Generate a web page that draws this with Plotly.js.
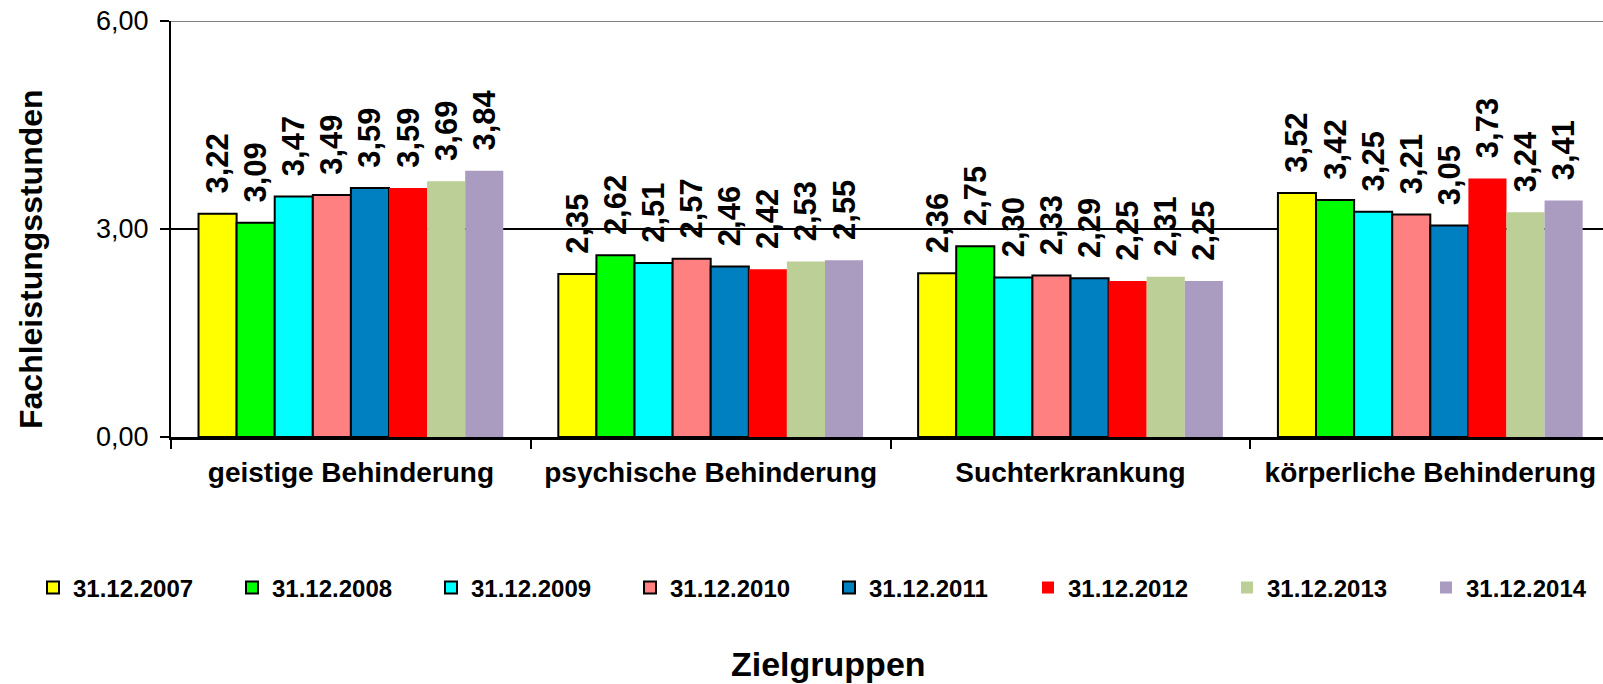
<!DOCTYPE html>
<html>
<head>
<meta charset="utf-8">
<script src="https://cdn.plot.ly/plotly-3.0.1.min.js"></script>
<style>
  html, body { margin: 0; padding: 0; background: #fff; }
  #graph { width: 1603px; height: 684px; }
</style>
</head>
<body>
<div id="graph"></div>
<script>
// DATA
const categories = ["geistige Behinderung", "psychische Behinderung", "Suchterkrankung", "körperliche Behinderung"];
const dates = ["31.12.2007", "31.12.2008", "31.12.2009", "31.12.2010", "31.12.2011", "31.12.2012", "31.12.2013", "31.12.2014"];

const v2007 = [3.22, 2.35, 2.36, 3.52];
const v2008 = [3.09, 2.62, 2.75, 3.42];
const v2009 = [3.47, 2.51, 2.30, 3.25];
const v2010 = [3.49, 2.57, 2.33, 3.21];
const v2011 = [3.59, 2.46, 2.29, 3.05];
const v2012 = [3.59, 2.42, 2.25, 3.73];
const v2013 = [3.69, 2.53, 2.31, 3.24];
const v2014 = [3.84, 2.55, 2.25, 3.41];

const seriesValues = [v2007, v2008, v2009, v2010, v2011, v2012, v2013, v2014];

// STYLES
const colors = ["#ffff00", "#00ff00", "#00ffff", "#ff8080", "#0080c0", "#ff0000", "#bbcf96", "#aa9cc1"];
const outlined = [true, true, true, true, true, false, false, false];
const FONT = "Liberation Sans, Arial, sans-serif";

// plot area in pixels (used to place the free texts)
const PL = 171, PW = 1432, PT = 21, PH = 416;
const px2x = (px) => (px - PL) / PW;
const px2y = (py) => (PT + PH - py) / PH;

const data = seriesValues.map((vals, i) => ({
  type: "bar",
  name: dates[i],
  x: categories,
  y: vals,
  marker: {
    color: colors[i],
    line: { color: outlined[i] ? "#000" : colors[i], width: outlined[i] ? 2 : 0 },
  },
  // leading spaces push the rotated label up off the bar
  texttemplate: "\u00a0\u00a0%{y:.2f}",
  textposition: "outside",
  textangle: -90,
  constraintext: "none",
  cliponaxis: false,
  textfont: { family: FONT, size: 31, weight: "bold", color: "#000" },
  hoverinfo: "skip",
}));

const layout = {
  width: 1603,
  height: 684,
  // no autoexpand, otherwise the wide legend gets pushed back to the left
  margin: { l: PL, r: 0, t: PT, b: 684 - PT - PH, autoexpand: false },
  paper_bgcolor: "#fff",
  plot_bgcolor: "#fff",
  separators: ",.",
  barmode: "group",
  bargap: 0.153,
  bargroupgap: 0,
  showlegend: true,
  font: { family: FONT, color: "#000" },
  xaxis: {
    type: "category",
    range: [-0.5, 3.48],
    showline: true,
    linecolor: "#000",
    linewidth: 3,
    ticks: "outside",
    tickson: "boundaries",
    ticklen: 9,
    tickwidth: 2,
    tickcolor: "#000",
    ticklabelstandoff: 8,
    showgrid: false,
    tickfont: { family: FONT, size: 28, weight: "bold", color: "#000" },
  },
  yaxis: {
    range: [0, 6],
    dtick: 3,
    tickformat: ".2f",
    showline: true,
    linecolor: "#000",
    linewidth: 2,
    ticks: "outside",
    ticklen: 9,
    tickwidth: 2,
    tickcolor: "#000",
    ticklabelstandoff: 6,
    showgrid: true,
    gridcolor: "#000",
    gridwidth: 2,
    zeroline: false,
    tickfont: { family: FONT, size: 27, color: "#000" },
  },
  shapes: [
    { type: "line", xref: "paper", x0: 0, x1: 1, yref: "y", y0: 6, y1: 6, line: { color: "#808080", width: 2 } },
  ],
  legend: {
    orientation: "h",
    x: px2x(33),
    xanchor: "left",
    y: px2y(588),
    yanchor: "middle",
    entrywidth: 154,
    entrywidthmode: "pixels",
    itemwidth: 30,
    font: { family: FONT, size: 24, weight: "bold", color: "#000" },
    traceorder: "normal",
  },
  annotations: [
    {
      text: "Fachleistungsstunden",
      xref: "paper", yref: "paper",
      x: px2x(31), y: px2y(259),
      xanchor: "center", yanchor: "middle",
      textangle: -90,
      showarrow: false,
      font: { family: FONT, size: 32, weight: "bold", color: "#000" },
    },
    {
      text: "Zielgruppen",
      xref: "paper", yref: "paper",
      x: px2x(828), y: px2y(664),
      xanchor: "center", yanchor: "middle",
      showarrow: false,
      font: { family: FONT, size: 34, weight: "bold", color: "#000" },
    },
  ],
};

Plotly.newPlot("graph", data, layout, { displayModeBar: false, staticPlot: true });
</script>
</body>
</html>
